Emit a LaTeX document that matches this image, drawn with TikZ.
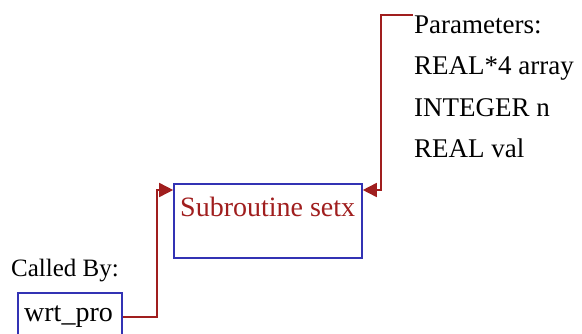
\documentclass[tikz,border=0pt]{standalone}
\usepackage{fontspec}
\setmainfont{Liberation Serif}
\usetikzlibrary{arrows.meta,calc}
\definecolor{linkred}{RGB}{160,30,30}
\definecolor{boxblue}{RGB}{50,50,180}
\begin{document}
\begin{tikzpicture}[x=1pt,y=-1pt,
  every node/.style={font=\fontsize{27}{30}\selectfont, inner sep=0pt},
  box/.style={draw=boxblue, line width=1.6pt},
  link/.style={draw=linkred, line width=1.6pt, -{Triangle[length=14pt,width=14pt]}},
  txt/.style={anchor=west, text=black}]
\useasboundingbox (0,0) rectangle (582,333);
\node[box, minimum width=188pt, minimum height=74pt] (setx) at (268,221) {};
\node[txt, text=linkred, font=\fontsize{28}{30}\selectfont] (setxlabel) at (180,207) {Subroutine setx};
\node[box, minimum width=104pt, minimum height=50pt] (wrt) at (70,318) {};
\node[txt, font=\fontsize{28}{30}\selectfont] (wrtlabel) at (24,317) {wrt\_pro};
\node[txt, font=\fontsize{25}{30}\selectfont] (calledby) at (11,271) {Called By:};
\node[txt] (p1) at (414,25) {Parameters:};
\node[txt] (p2) at (414,68) {REAL*4 array};
\node[txt] (p3) at (414,108) {INTEGER n};
\node[txt] (p4) at (414,148) {REAL val};
\coordinate (pstart) at (413,15);
\coordinate (rbend) at (381,190);
\coordinate (lbend) at (157,317);
\draw[link] (wrt.east |- lbend) -- (lbend) |- (setx.west |- 0,190);
\draw[link] (pstart) -| (rbend) -- (setx.east |- rbend);
\end{tikzpicture}
\end{document}
